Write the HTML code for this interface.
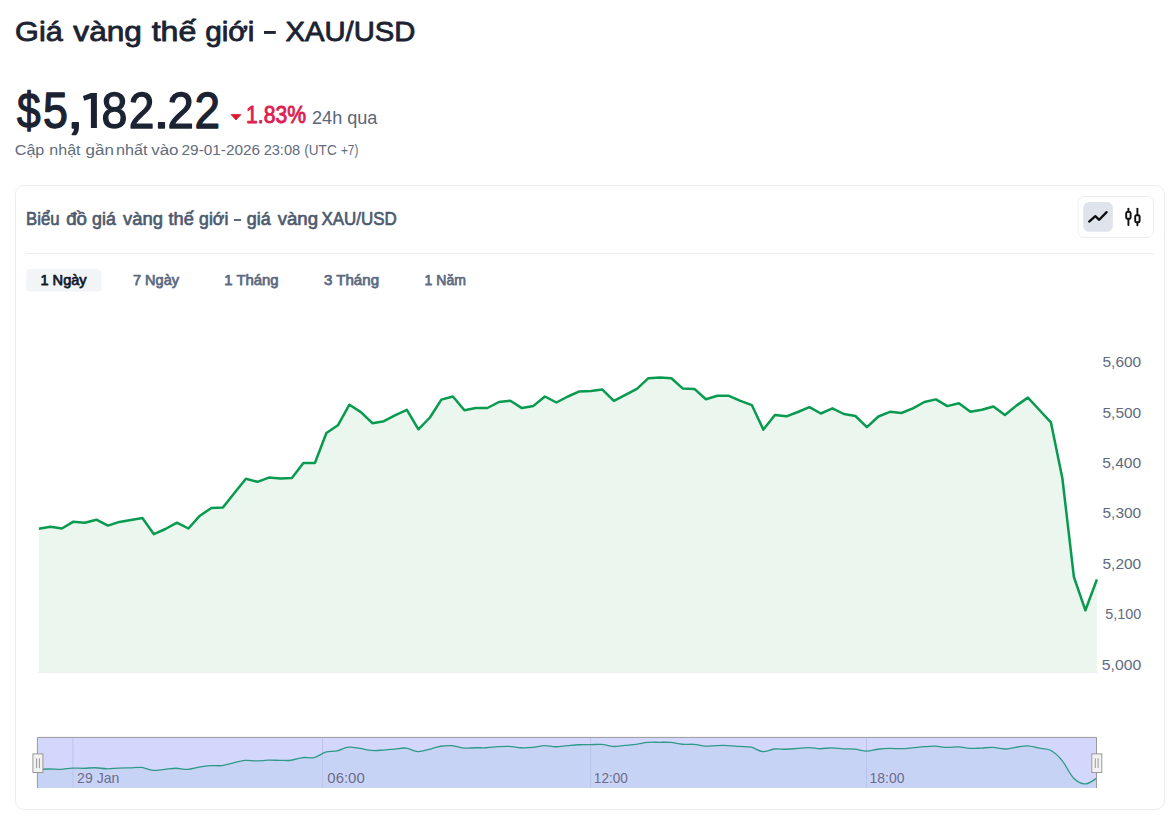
<!DOCTYPE html>
<html lang="vi">
<head>
<meta charset="utf-8">
<title>Giá vàng thế giới - XAU/USD</title>
<style>
html,body{margin:0;padding:0;background:#ffffff;}
body{width:1170px;height:816px;overflow:hidden;position:relative;font-family:"Liberation Sans",sans-serif;}
svg{position:absolute;left:0;top:0;}
text{font-family:"Liberation Sans",sans-serif;}
</style>
</head>
<body>
<svg width="1170" height="816" viewBox="0 0 1170 816">
  <!-- header -->
  <path d="M231 114.6 L241 114.6 L236 120 Z" fill="#dc1b2e" stroke="#dc1b2e" stroke-width="0.8" stroke-linejoin="round"/>
  <path d="M90.9 93.1 L96.9 93.1 L96.9 127.9 L90.9 127.9 L90.9 98.4 L84.3 100.8 L82.9 96.1 Z" fill="#1b2232"/>
  <rect x="264" y="31" width="11.8" height="2.9" fill="#1b2232"/>
  <!-- card -->
  <rect x="15.5" y="185.5" width="1149" height="624" rx="8.5" ry="8.5" fill="#ffffff" stroke="#eaeef3" stroke-width="1"/>

  <rect x="233.9" y="219.1" width="7.2" height="1.8" fill="#4d5a6f"/>
  <!-- chart type toggle -->
  <rect x="1078" y="196.5" width="75.5" height="41" rx="6.5" ry="6.5" fill="#ffffff" stroke="#eaeef3" stroke-width="1"/>
  <rect x="1083.3" y="202.1" width="29.5" height="29.6" rx="5.5" ry="5.5" fill="#dfe3ec"/>
  <path d="M1089.2 221.6 L1095.3 216.2 L1099.2 219.8 L1106.6 212.1" fill="none" stroke="#0e0e10" stroke-width="2.3" stroke-linecap="round" stroke-linejoin="round"/>
  <g fill="none" stroke="#0e0e10" stroke-width="1.9" stroke-linecap="round">
    <line x1="1128.4" y1="208.6" x2="1128.4" y2="211.6"/>
    <line x1="1128.4" y1="219.2" x2="1128.4" y2="225"/>
    <rect x="1126.2" y="211.9" width="4.4" height="6.9" rx="1.3"/>
    <line x1="1137.4" y1="208.6" x2="1137.4" y2="215"/>
    <line x1="1137.4" y1="222.6" x2="1137.4" y2="225.2"/>
    <rect x="1135.2" y="215.2" width="4.4" height="7.1" rx="1.3"/>
  </g>

  <!-- divider -->
  <line x1="26" y1="253.5" x2="1153.5" y2="253.5" stroke="#eaeef3" stroke-width="1"/>

  <!-- tabs -->
  <rect x="26.2" y="268.9" width="75.3" height="22.6" rx="4.5" ry="4.5" fill="#f3f4f6"/>

  <!-- main chart -->
  <path d="M38.9 528.7 L50.4 526.8 L61.9 528.5 L73.4 521.7 L84.9 522.7 L96.4 519.7 L107.9 525.6 L119.4 521.9 L130.9 520 L142.4 518 L153.9 534.2 L165.4 529 L176.9 522.7 L188.4 528.5 L199.9 515.7 L211.4 508 L222.9 507.6 L234.4 492.9 L245.9 478.8 L257.4 481.8 L268.9 477.6 L280.4 478.4 L291.9 477.9 L303.4 462.9 L314.9 463 L326.4 433 L337.9 425.3 L349.4 404.7 L360.9 412.1 L372.4 423.2 L383.9 421.2 L395.4 415.2 L406.9 409.9 L418.4 429.3 L429.9 417.5 L441.4 399.6 L452.9 396.5 L464.4 410.2 L475.9 408 L487.4 408 L498.9 402 L510.4 400.8 L521.9 408.1 L533.4 405.9 L544.9 396.5 L556.4 402.5 L567.9 396.5 L579.4 391.4 L590.9 391 L602.4 389.6 L613.9 400.9 L625.4 394.9 L636.9 388.9 L648.4 378.2 L659.9 377.5 L671.4 378.3 L682.9 388.6 L694.4 388.9 L705.9 399.2 L717.4 395.8 L728.9 395.8 L740.4 400.9 L751.9 405.2 L763.4 429.6 L774.9 414.9 L786.4 416.3 L797.9 412 L809.4 407.1 L820.9 413.5 L832.4 408.3 L843.9 414 L855.4 416 L866.9 427.1 L878.4 416.5 L889.9 411.8 L901.4 413 L912.9 408.3 L924.4 402 L935.9 399.4 L947.4 406.1 L958.9 403.2 L970.4 411.8 L981.9 409.7 L993.4 406.5 L1004.9 415 L1016.4 405.6 L1027.9 397.6 L1039.4 410 L1050.9 422.3 L1062.4 478.5 L1073.9 577 L1085.4 610.3 L1096.9 579.5 L1096.9 672 L38.9 672 Z" fill="#ebf6ef" stroke="none"/>
  <line x1="38.4" y1="672.5" x2="1097.2" y2="672.5" stroke="#eceef6" stroke-width="1"/>
  <path d="M38.9 528.7 L50.4 526.8 L61.9 528.5 L73.4 521.7 L84.9 522.7 L96.4 519.7 L107.9 525.6 L119.4 521.9 L130.9 520 L142.4 518 L153.9 534.2 L165.4 529 L176.9 522.7 L188.4 528.5 L199.9 515.7 L211.4 508 L222.9 507.6 L234.4 492.9 L245.9 478.8 L257.4 481.8 L268.9 477.6 L280.4 478.4 L291.9 477.9 L303.4 462.9 L314.9 463 L326.4 433 L337.9 425.3 L349.4 404.7 L360.9 412.1 L372.4 423.2 L383.9 421.2 L395.4 415.2 L406.9 409.9 L418.4 429.3 L429.9 417.5 L441.4 399.6 L452.9 396.5 L464.4 410.2 L475.9 408 L487.4 408 L498.9 402 L510.4 400.8 L521.9 408.1 L533.4 405.9 L544.9 396.5 L556.4 402.5 L567.9 396.5 L579.4 391.4 L590.9 391 L602.4 389.6 L613.9 400.9 L625.4 394.9 L636.9 388.9 L648.4 378.2 L659.9 377.5 L671.4 378.3 L682.9 388.6 L694.4 388.9 L705.9 399.2 L717.4 395.8 L728.9 395.8 L740.4 400.9 L751.9 405.2 L763.4 429.6 L774.9 414.9 L786.4 416.3 L797.9 412 L809.4 407.1 L820.9 413.5 L832.4 408.3 L843.9 414 L855.4 416 L866.9 427.1 L878.4 416.5 L889.9 411.8 L901.4 413 L912.9 408.3 L924.4 402 L935.9 399.4 L947.4 406.1 L958.9 403.2 L970.4 411.8 L981.9 409.7 L993.4 406.5 L1004.9 415 L1016.4 405.6 L1027.9 397.6 L1039.4 410 L1050.9 422.3 L1062.4 478.5 L1073.9 577 L1085.4 610.3 L1096.9 579.5" fill="none" stroke="#089a4f" stroke-width="2.5" stroke-linejoin="round" stroke-linecap="butt"/>


  <!-- slider -->
  <rect x="37.4" y="737.4" width="1059.1" height="50.6" fill="#d3d7fc"/>
  <path d="M37.9 769.35 C39.91 769.29 45.38 769.01 49.41 769.01 C53.43 769 56.89 769.47 60.91 769.31 C64.94 769.15 68.39 768.28 72.42 768.09 C76.45 767.91 79.9 768.34 83.93 768.27 C87.95 768.21 91.41 767.65 95.43 767.74 C99.46 767.83 102.91 768.72 106.94 768.79 C110.97 768.86 114.42 768.31 118.45 768.13 C122.47 767.95 125.92 767.91 129.95 767.79 C133.98 767.67 137.43 766.99 141.46 767.43 C145.49 767.88 148.94 769.99 152.97 770.33 C156.99 770.68 160.44 769.76 164.47 769.4 C168.5 769.04 171.95 768.29 175.98 768.27 C180.01 768.26 183.46 769.53 187.48 769.31 C191.51 769.09 194.96 767.66 198.99 767.02 C203.02 766.38 206.47 765.9 210.5 765.64 C214.53 765.39 217.98 766.04 222 765.57 C226.03 765.1 229.48 763.84 233.51 762.94 C237.54 762.04 240.99 760.76 245.02 760.41 C249.04 760.07 252.5 760.99 256.52 760.95 C260.55 760.91 264 760.31 268.03 760.2 C272.06 760.09 275.51 760.33 279.54 760.34 C283.56 760.35 287.02 760.74 291.04 760.25 C295.07 759.77 298.52 758.04 302.55 757.57 C306.58 757.1 310.03 758.52 314.06 757.59 C318.08 756.65 321.54 753.4 325.56 752.22 C329.59 751.04 333.04 751.72 337.07 750.84 C341.1 749.95 344.55 747.56 348.58 747.15 C352.6 746.74 356.06 747.9 360.08 748.48 C364.11 749.06 367.56 750.18 371.59 750.46 C375.62 750.75 379.07 750.35 383.1 750.1 C387.12 749.85 390.57 749.38 394.6 749.03 C398.63 748.68 402.08 747.64 406.11 748.08 C410.14 748.52 413.59 751.32 417.62 751.55 C421.64 751.79 425.09 750.37 429.12 749.44 C433.15 748.51 436.6 746.9 440.63 746.24 C444.66 745.58 448.11 745.35 452.13 745.68 C456.16 746.02 459.61 747.78 463.64 748.14 C467.67 748.5 471.12 747.81 475.15 747.74 C479.18 747.67 482.63 747.93 486.65 747.74 C490.68 747.55 494.13 746.89 498.16 746.67 C502.19 746.44 505.64 746.26 509.67 746.45 C513.69 746.64 517.15 747.6 521.17 747.76 C525.2 747.92 528.65 747.73 532.68 747.37 C536.71 747 540.16 745.79 544.19 745.68 C548.21 745.58 551.67 746.76 555.69 746.76 C559.72 746.76 563.17 746.03 567.2 745.68 C571.23 745.34 574.68 744.94 578.71 744.77 C582.73 744.6 586.19 744.75 590.21 744.7 C594.24 744.64 597.69 744.14 601.72 744.45 C605.75 744.76 609.2 746.3 613.23 746.47 C617.25 746.64 620.71 745.77 624.73 745.4 C628.76 745.02 632.21 744.85 636.24 744.32 C640.27 743.8 643.72 742.76 647.75 742.41 C651.77 742.05 655.22 742.28 659.25 742.28 C663.28 742.29 666.73 742.08 670.76 742.43 C674.79 742.77 678.24 743.94 682.27 744.27 C686.29 744.6 689.74 743.99 693.77 744.32 C697.8 744.65 701.25 745.95 705.28 746.17 C709.31 746.38 712.76 745.66 716.78 745.56 C720.81 745.45 724.26 745.4 728.29 745.56 C732.32 745.72 735.77 746.18 739.8 746.47 C743.83 746.77 747.28 746.34 751.3 747.24 C755.33 748.14 758.78 751.3 762.81 751.61 C766.84 751.91 770.29 749.39 774.32 748.98 C778.34 748.56 781.8 749.32 785.82 749.23 C789.85 749.14 793.3 748.75 797.33 748.46 C801.36 748.17 804.81 747.53 808.84 747.58 C812.86 747.63 816.32 748.69 820.34 748.73 C824.37 748.76 827.82 747.78 831.85 747.8 C835.88 747.81 839.33 748.57 843.36 748.82 C847.38 749.06 850.84 748.76 854.86 749.17 C858.89 749.58 862.34 751.14 866.37 751.16 C870.4 751.18 873.85 749.74 877.88 749.26 C881.9 748.78 885.36 748.53 889.38 748.42 C893.41 748.31 896.86 748.75 900.89 748.64 C904.92 748.53 908.37 748.14 912.4 747.8 C916.42 747.45 919.87 746.95 923.9 746.67 C927.93 746.39 931.38 746.07 935.41 746.2 C939.44 746.33 942.89 747.28 946.92 747.4 C950.94 747.52 954.39 746.7 958.42 746.88 C962.45 747.06 965.9 748.22 969.93 748.42 C973.96 748.63 977.41 748.21 981.43 748.05 C985.46 747.88 988.91 747.31 992.94 747.47 C996.97 747.64 1000.42 749.02 1004.45 748.99 C1008.48 748.97 1011.93 747.86 1015.95 747.31 C1019.98 746.77 1023.43 745.74 1027.46 745.88 C1031.49 746.02 1034.94 747.33 1038.97 748.1 C1042.99 748.87 1046.45 748.16 1050.47 750.3 C1054.5 752.45 1057.95 755.52 1061.98 760.36 C1066.01 765.21 1069.46 773.86 1073.49 777.99 C1077.51 782.12 1080.97 783.87 1084.99 783.95 C1089.02 784.03 1094.49 779.4 1096.5 778.44 L1096.5 788 L37.9 788 Z" fill="#c6d3f4" stroke="none"/>
  <g stroke="#bcc5ea" stroke-width="1">
    <line x1="72.9" y1="738" x2="72.9" y2="788"/>
    <line x1="322.6" y1="738" x2="322.6" y2="788"/>
    <line x1="590.6" y1="738" x2="590.6" y2="788"/>
    <line x1="866.5" y1="738" x2="866.5" y2="788"/>
  </g>
  <path d="M37.9 769.35 C39.91 769.29 45.38 769.01 49.41 769.01 C53.43 769 56.89 769.47 60.91 769.31 C64.94 769.15 68.39 768.28 72.42 768.09 C76.45 767.91 79.9 768.34 83.93 768.27 C87.95 768.21 91.41 767.65 95.43 767.74 C99.46 767.83 102.91 768.72 106.94 768.79 C110.97 768.86 114.42 768.31 118.45 768.13 C122.47 767.95 125.92 767.91 129.95 767.79 C133.98 767.67 137.43 766.99 141.46 767.43 C145.49 767.88 148.94 769.99 152.97 770.33 C156.99 770.68 160.44 769.76 164.47 769.4 C168.5 769.04 171.95 768.29 175.98 768.27 C180.01 768.26 183.46 769.53 187.48 769.31 C191.51 769.09 194.96 767.66 198.99 767.02 C203.02 766.38 206.47 765.9 210.5 765.64 C214.53 765.39 217.98 766.04 222 765.57 C226.03 765.1 229.48 763.84 233.51 762.94 C237.54 762.04 240.99 760.76 245.02 760.41 C249.04 760.07 252.5 760.99 256.52 760.95 C260.55 760.91 264 760.31 268.03 760.2 C272.06 760.09 275.51 760.33 279.54 760.34 C283.56 760.35 287.02 760.74 291.04 760.25 C295.07 759.77 298.52 758.04 302.55 757.57 C306.58 757.1 310.03 758.52 314.06 757.59 C318.08 756.65 321.54 753.4 325.56 752.22 C329.59 751.04 333.04 751.72 337.07 750.84 C341.1 749.95 344.55 747.56 348.58 747.15 C352.6 746.74 356.06 747.9 360.08 748.48 C364.11 749.06 367.56 750.18 371.59 750.46 C375.62 750.75 379.07 750.35 383.1 750.1 C387.12 749.85 390.57 749.38 394.6 749.03 C398.63 748.68 402.08 747.64 406.11 748.08 C410.14 748.52 413.59 751.32 417.62 751.55 C421.64 751.79 425.09 750.37 429.12 749.44 C433.15 748.51 436.6 746.9 440.63 746.24 C444.66 745.58 448.11 745.35 452.13 745.68 C456.16 746.02 459.61 747.78 463.64 748.14 C467.67 748.5 471.12 747.81 475.15 747.74 C479.18 747.67 482.63 747.93 486.65 747.74 C490.68 747.55 494.13 746.89 498.16 746.67 C502.19 746.44 505.64 746.26 509.67 746.45 C513.69 746.64 517.15 747.6 521.17 747.76 C525.2 747.92 528.65 747.73 532.68 747.37 C536.71 747 540.16 745.79 544.19 745.68 C548.21 745.58 551.67 746.76 555.69 746.76 C559.72 746.76 563.17 746.03 567.2 745.68 C571.23 745.34 574.68 744.94 578.71 744.77 C582.73 744.6 586.19 744.75 590.21 744.7 C594.24 744.64 597.69 744.14 601.72 744.45 C605.75 744.76 609.2 746.3 613.23 746.47 C617.25 746.64 620.71 745.77 624.73 745.4 C628.76 745.02 632.21 744.85 636.24 744.32 C640.27 743.8 643.72 742.76 647.75 742.41 C651.77 742.05 655.22 742.28 659.25 742.28 C663.28 742.29 666.73 742.08 670.76 742.43 C674.79 742.77 678.24 743.94 682.27 744.27 C686.29 744.6 689.74 743.99 693.77 744.32 C697.8 744.65 701.25 745.95 705.28 746.17 C709.31 746.38 712.76 745.66 716.78 745.56 C720.81 745.45 724.26 745.4 728.29 745.56 C732.32 745.72 735.77 746.18 739.8 746.47 C743.83 746.77 747.28 746.34 751.3 747.24 C755.33 748.14 758.78 751.3 762.81 751.61 C766.84 751.91 770.29 749.39 774.32 748.98 C778.34 748.56 781.8 749.32 785.82 749.23 C789.85 749.14 793.3 748.75 797.33 748.46 C801.36 748.17 804.81 747.53 808.84 747.58 C812.86 747.63 816.32 748.69 820.34 748.73 C824.37 748.76 827.82 747.78 831.85 747.8 C835.88 747.81 839.33 748.57 843.36 748.82 C847.38 749.06 850.84 748.76 854.86 749.17 C858.89 749.58 862.34 751.14 866.37 751.16 C870.4 751.18 873.85 749.74 877.88 749.26 C881.9 748.78 885.36 748.53 889.38 748.42 C893.41 748.31 896.86 748.75 900.89 748.64 C904.92 748.53 908.37 748.14 912.4 747.8 C916.42 747.45 919.87 746.95 923.9 746.67 C927.93 746.39 931.38 746.07 935.41 746.2 C939.44 746.33 942.89 747.28 946.92 747.4 C950.94 747.52 954.39 746.7 958.42 746.88 C962.45 747.06 965.9 748.22 969.93 748.42 C973.96 748.63 977.41 748.21 981.43 748.05 C985.46 747.88 988.91 747.31 992.94 747.47 C996.97 747.64 1000.42 749.02 1004.45 748.99 C1008.48 748.97 1011.93 747.86 1015.95 747.31 C1019.98 746.77 1023.43 745.74 1027.46 745.88 C1031.49 746.02 1034.94 747.33 1038.97 748.1 C1042.99 748.87 1046.45 748.16 1050.47 750.3 C1054.5 752.45 1057.95 755.52 1061.98 760.36 C1066.01 765.21 1069.46 773.86 1073.49 777.99 C1077.51 782.12 1080.97 783.87 1084.99 783.95 C1089.02 784.03 1094.49 779.4 1096.5 778.44" fill="none" stroke="#2f9987" stroke-width="1.3"/>
  <path d="M37.4 788 L37.4 737.4 L1096.5 737.4 L1096.5 788" fill="none" stroke="#9a9a9a" stroke-width="1"/>
  <text id="t1" x="15.12" y="40.9" font-size="28.5" fill="#1b2232" stroke="#1b2232" stroke-width="0.85" stroke-linejoin="round" textLength="47.66" lengthAdjust="spacingAndGlyphs">Giá</text>
  <text id="t2" x="73.34" y="40.9" font-size="28.5" fill="#1b2232" stroke="#1b2232" stroke-width="0.85" stroke-linejoin="round" textLength="68.6" lengthAdjust="spacingAndGlyphs">vàng</text>
  <text id="t3" x="151.66" y="40.9" font-size="28.5" fill="#1b2232" stroke="#1b2232" stroke-width="0.85" stroke-linejoin="round" textLength="44.66" lengthAdjust="spacingAndGlyphs">thế</text>
  <text id="t4" x="205.17" y="40.9" font-size="28.5" fill="#1b2232" stroke="#1b2232" stroke-width="0.85" stroke-linejoin="round" textLength="49.32" lengthAdjust="spacingAndGlyphs">giới</text>
  <text id="t6" x="285.49" y="40.9" font-size="28.5" fill="#1b2232" stroke="#1b2232" stroke-width="0.85" stroke-linejoin="round" textLength="129.91" lengthAdjust="spacingAndGlyphs">XAU/USD</text>
  <text id="p1" x="16.93" y="127.8" font-size="50" fill="#1b2232" stroke="#1b2232" stroke-width="1.3" stroke-linejoin="round" textLength="23.61" lengthAdjust="spacingAndGlyphs">$</text>
  <text id="p2" x="42.93" y="127.8" font-size="50" fill="#1b2232" stroke="#1b2232" stroke-width="1.3" stroke-linejoin="round" textLength="24.91" lengthAdjust="spacingAndGlyphs">5</text>
  <text id="p3" x="66.84" y="127.8" font-size="50" fill="#1b2232" stroke="#1b2232" stroke-width="1.3" stroke-linejoin="round" textLength="16.93" lengthAdjust="spacingAndGlyphs">,</text>
  <text id="p5" x="101.49" y="127.8" font-size="50" fill="#1b2232" stroke="#1b2232" stroke-width="1.3" stroke-linejoin="round" textLength="25.9" lengthAdjust="spacingAndGlyphs">8</text>
  <text id="p6" x="128.79" y="127.8" font-size="50" fill="#1b2232" stroke="#1b2232" stroke-width="1.3" stroke-linejoin="round" textLength="25.63" lengthAdjust="spacingAndGlyphs">2</text>
  <text id="p7" x="153.27" y="127.8" font-size="50" fill="#1b2232" stroke="#1b2232" stroke-width="1.3" stroke-linejoin="round" textLength="16.5" lengthAdjust="spacingAndGlyphs">.</text>
  <text id="p8" x="167.53" y="127.8" font-size="50" fill="#1b2232" stroke="#1b2232" stroke-width="1.3" stroke-linejoin="round" textLength="26.34" lengthAdjust="spacingAndGlyphs">2</text>
  <text id="p9" x="194.54" y="127.8" font-size="50" fill="#1b2232" stroke="#1b2232" stroke-width="1.3" stroke-linejoin="round" textLength="25.54" lengthAdjust="spacingAndGlyphs">2</text>
  <text id="pc" x="246.12" y="122.9" font-size="24.5" fill="#dc2050" stroke="#dc2050" stroke-width="0.9" stroke-linejoin="round" textLength="59.88" lengthAdjust="spacingAndGlyphs">1.83%</text>
  <text id="h24" x="312.07" y="123.7" font-size="17.5" fill="#5b6578" textLength="65.29" lengthAdjust="spacingAndGlyphs">24h qua</text>
  <text id="u1" x="14.72" y="154.5" font-size="15.2" fill="#616c7d" textLength="29.63" lengthAdjust="spacingAndGlyphs">Cập</text>
  <text id="u2" x="49.3" y="154.5" font-size="15.2" fill="#616c7d" textLength="31.22" lengthAdjust="spacingAndGlyphs">nhật</text>
  <text id="u3" x="85.56" y="154.5" font-size="15.2" fill="#616c7d" textLength="28.4" lengthAdjust="spacingAndGlyphs">gần</text>
  <text id="u4" x="116.01" y="154.5" font-size="15.2" fill="#616c7d" textLength="31.4" lengthAdjust="spacingAndGlyphs">nhất</text>
  <text id="u5" x="151.23" y="154.5" font-size="15.2" fill="#616c7d" textLength="27.27" lengthAdjust="spacingAndGlyphs">vào</text>
  <text id="u6" x="181.59" y="154.5" font-size="15.2" fill="#616c7d" textLength="78.56" lengthAdjust="spacingAndGlyphs">29-01-2026</text>
  <text id="u7" x="263.63" y="154.5" font-size="15.2" fill="#616c7d" textLength="36.56" lengthAdjust="spacingAndGlyphs">23:08</text>
  <text id="u8" x="304.33" y="154.5" font-size="15.2" fill="#616c7d" textLength="32.34" lengthAdjust="spacingAndGlyphs">(UTC</text>
  <text id="u9" x="341" y="154.5" font-size="15.2" fill="#616c7d" textLength="17.33" lengthAdjust="spacingAndGlyphs">+7)</text>
  <text id="c1" x="26.08" y="224.8" font-size="17.5" fill="#4d5a6f" stroke="#4d5a6f" stroke-width="0.65" stroke-linejoin="round" textLength="33.52" lengthAdjust="spacingAndGlyphs">Biểu</text>
  <text id="c2" x="66.23" y="224.8" font-size="17.5" fill="#4d5a6f" stroke="#4d5a6f" stroke-width="0.65" stroke-linejoin="round" textLength="20.77" lengthAdjust="spacingAndGlyphs">đồ</text>
  <text id="c3" x="92.02" y="224.8" font-size="17.5" fill="#4d5a6f" stroke="#4d5a6f" stroke-width="0.65" stroke-linejoin="round" textLength="23.78" lengthAdjust="spacingAndGlyphs">giá</text>
  <text id="c4" x="123.08" y="224.8" font-size="17.5" fill="#4d5a6f" stroke="#4d5a6f" stroke-width="0.65" stroke-linejoin="round" textLength="39.93" lengthAdjust="spacingAndGlyphs">vàng</text>
  <text id="c5" x="168.53" y="224.8" font-size="17.5" fill="#4d5a6f" stroke="#4d5a6f" stroke-width="0.65" stroke-linejoin="round" textLength="25.26" lengthAdjust="spacingAndGlyphs">thế</text>
  <text id="c6" x="199.08" y="224.8" font-size="17.5" fill="#4d5a6f" stroke="#4d5a6f" stroke-width="0.65" stroke-linejoin="round" textLength="29.3" lengthAdjust="spacingAndGlyphs">giới</text>
  <text id="c8" x="246.81" y="224.8" font-size="17.5" fill="#4d5a6f" stroke="#4d5a6f" stroke-width="0.65" stroke-linejoin="round" textLength="23.96" lengthAdjust="spacingAndGlyphs">giá</text>
  <text id="c9" x="277.69" y="224.8" font-size="17.5" fill="#4d5a6f" stroke="#4d5a6f" stroke-width="0.65" stroke-linejoin="round" textLength="40.3" lengthAdjust="spacingAndGlyphs">vàng</text>
  <text id="c10" x="321.4" y="224.8" font-size="17.5" fill="#4d5a6f" stroke="#4d5a6f" stroke-width="0.65" stroke-linejoin="round" textLength="75.47" lengthAdjust="spacingAndGlyphs">XAU/USD</text>
  <text id="tb1" x="40.48" y="284.7" font-size="14.6" fill="#121a2b" stroke="#121a2b" stroke-width="0.75" stroke-linejoin="round" textLength="46.18" lengthAdjust="spacingAndGlyphs">1 Ngày</text>
  <text id="tb2" x="133" y="284.7" font-size="14.6" fill="#5c6a82" stroke="#5c6a82" stroke-width="0.75" stroke-linejoin="round" textLength="46.02" lengthAdjust="spacingAndGlyphs">7 Ngày</text>
  <text id="tb3" x="224.26" y="284.7" font-size="14.6" fill="#5c6a82" stroke="#5c6a82" stroke-width="0.75" stroke-linejoin="round" textLength="54.32" lengthAdjust="spacingAndGlyphs">1 Tháng</text>
  <text id="tb4" x="324" y="284.7" font-size="14.6" fill="#5c6a82" stroke="#5c6a82" stroke-width="0.75" stroke-linejoin="round" textLength="55.02" lengthAdjust="spacingAndGlyphs">3 Tháng</text>
  <text id="tb5" x="424.6" y="284.7" font-size="14.6" fill="#5c6a82" stroke="#5c6a82" stroke-width="0.75" stroke-linejoin="round" textLength="41.29" lengthAdjust="spacingAndGlyphs">1 Năm</text>
  <text id="s1" x="77.06" y="782.9" font-size="13.9" fill="#676c8b" stroke="#cdd5f7" stroke-width="3" paint-order="stroke" stroke-linejoin="round" textLength="42.3" lengthAdjust="spacingAndGlyphs">29 Jan</text>
  <text id="s2" x="327.38" y="782.9" font-size="13.9" fill="#676c8b" stroke="#cdd5f7" stroke-width="3" paint-order="stroke" stroke-linejoin="round" textLength="37.31" lengthAdjust="spacingAndGlyphs">06:00</text>
  <text id="s3" x="593.86" y="782.9" font-size="13.9" fill="#676c8b" stroke="#cdd5f7" stroke-width="3" paint-order="stroke" stroke-linejoin="round" textLength="34.06" lengthAdjust="spacingAndGlyphs">12:00</text>
  <text id="s4" x="869.59" y="782.9" font-size="13.9" fill="#676c8b" stroke="#cdd5f7" stroke-width="3" paint-order="stroke" stroke-linejoin="round" textLength="34.81" lengthAdjust="spacingAndGlyphs">18:00</text>
  <text id="y1" x="1102.5" y="367.1" font-size="14.4" fill="#5e6a80" textLength="38.69" lengthAdjust="spacingAndGlyphs">5,600</text>
  <text id="y2" x="1102.5" y="417.5" font-size="14.4" fill="#5e6a80" textLength="38.69" lengthAdjust="spacingAndGlyphs">5,500</text>
  <text id="y3" x="1102.21" y="468" font-size="14.4" fill="#5e6a80" textLength="38.99" lengthAdjust="spacingAndGlyphs">5,400</text>
  <text id="y4" x="1102.5" y="518.4" font-size="14.4" fill="#5e6a80" textLength="38.69" lengthAdjust="spacingAndGlyphs">5,300</text>
  <text id="y5" x="1102.5" y="568.8" font-size="14.4" fill="#5e6a80" textLength="38.69" lengthAdjust="spacingAndGlyphs">5,200</text>
  <text id="y6" x="1105.36" y="619.3" font-size="14.4" fill="#5e6a80" textLength="35.82" lengthAdjust="spacingAndGlyphs">5,100</text>
  <text id="y7" x="1101.75" y="669.7" font-size="14.4" fill="#5e6a80" textLength="39.39" lengthAdjust="spacingAndGlyphs">5,000</text>
  <!-- handles -->
  <g>
    <rect x="32.9" y="753.9" width="10" height="18.6" fill="#f2f2f2" stroke="#999999" stroke-width="1"/>
    <line x1="36.6" y1="758.3" x2="36.6" y2="768" stroke="#999" stroke-width="1"/>
    <line x1="39.4" y1="758.3" x2="39.4" y2="768" stroke="#999" stroke-width="1"/>
    <rect x="1091.8" y="753.9" width="10" height="18.6" fill="#f2f2f2" stroke="#999999" stroke-width="1"/>
    <line x1="1095.3" y1="758.3" x2="1095.3" y2="768" stroke="#999" stroke-width="1"/>
    <line x1="1098.1" y1="758.3" x2="1098.1" y2="768" stroke="#999" stroke-width="1"/>
  </g>
</svg>
</body>
</html>
